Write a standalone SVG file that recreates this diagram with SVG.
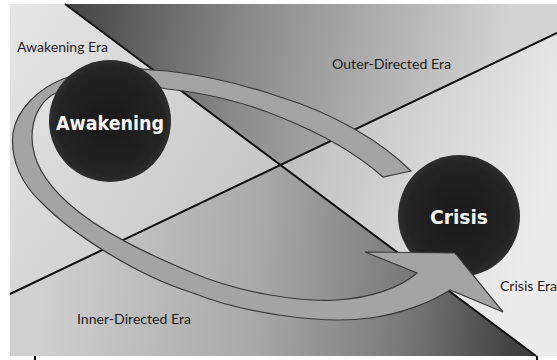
<svg xmlns="http://www.w3.org/2000/svg" width="557" height="360" viewBox="0 0 557 360">
<defs>
<linearGradient id="gTop" gradientUnits="userSpaceOnUse" x1="80" y1="0" x2="500" y2="70">
<stop offset="0" stop-color="#484848"/><stop offset="0.4" stop-color="#8a8a8a"/><stop offset="1" stop-color="#d2d2d2"/>
</linearGradient>
<linearGradient id="gLeft" gradientUnits="userSpaceOnUse" x1="10" y1="10" x2="280" y2="165">
<stop offset="0" stop-color="#e6e6e6"/><stop offset="1" stop-color="#c6c6c6"/>
</linearGradient>
<linearGradient id="gRight" gradientUnits="userSpaceOnUse" x1="290" y1="170" x2="530" y2="250">
<stop offset="0" stop-color="#c0c0c0"/><stop offset="1" stop-color="#ececec"/>
</linearGradient>
<linearGradient id="gBottom" gradientUnits="userSpaceOnUse" x1="40" y1="310" x2="520" y2="350">
<stop offset="0" stop-color="#d0d0d0"/><stop offset="0.45" stop-color="#a8a8a8"/><stop offset="0.75" stop-color="#7a7a7a"/><stop offset="1" stop-color="#3e3e3e"/>
</linearGradient>
<radialGradient id="gBall" cx="0.5" cy="0.5" r="0.5">
<stop offset="0" stop-color="#1a1a1a"/><stop offset="0.85" stop-color="#222"/><stop offset="1" stop-color="#2e2e2e"/>
</radialGradient>
<style>
.line{stroke:#111;stroke-width:2;fill:none}
.era{font-family:Lato,"Open Sans","DejaVu Sans",sans-serif;font-size:14px;fill:#1e1e1e}
.node-text{font-family:"DejaVu Sans",Verdana,sans-serif;font-weight:bold;font-size:19px;fill:#f4f4f4}
.ball{fill:url(#gBall)}
.band{fill:#a4a4a4;stroke:#3a3a3a;stroke-width:1.2;stroke-linejoin:miter}
</style>
</defs>
<rect x="0" y="0" width="557" height="360" fill="#fff"/>
<!-- background wedges -->
<polygon points="65,4 557,4 557,33 280.4,165" fill="url(#gTop)"/>
<polygon points="10,4 65,4 280.4,165 10,294" fill="url(#gLeft)"/>
<polygon points="557,33 280.4,165 536,356 557,356" fill="url(#gRight)"/>
<polygon points="10,294 280.4,165 536,356 10,356" fill="url(#gBottom)"/>
<line class="line" x1="65" y1="4" x2="536" y2="356"/>
<line class="line" x1="10" y1="294" x2="557" y2="33"/>
<rect x="34" y="356" width="2" height="4" fill="#000"/>
<rect x="536" y="356" width="2" height="4" fill="#000"/>
<g id="crisis">
<circle class="ball" cx="459" cy="216" r="61"/>
<text class="node-text" x="459" y="224" text-anchor="middle" textLength="58" lengthAdjust="spacingAndGlyphs">Crisis</text>
</g>
<g id="connectors">
<path class="band" d="M411,171 C380,140 330,112 280,97 C240,83 190,72 153,70 C120,66 90,68 63,79 C40,88 17,108 13,133 C10,160 22,185 42,203 C70,232 135,275 193,293 C240,312 320,325 370,318 C400,314 430,303 450,290 L503,312 L455,253 L365,252 L417,273 C400,288 370,298 337,300 C300,302 240,293 193,273 C150,255 100,232 68,203 C48,185 32,162 32,137 C32,118 40,103 52,95 C80,80 130,80 167,89 C200,92 245,102 280,117 C320,133 355,152 383,177 Z"/>
</g>
<g id="awakening">
<circle class="ball" cx="110" cy="121" r="61"/>
<text class="node-text" x="110" y="130" text-anchor="middle" textLength="108" lengthAdjust="spacingAndGlyphs">Awakening</text>
</g>
<g id="era-labels">
<text class="era" x="17" y="52" textLength="91" lengthAdjust="spacingAndGlyphs">Awakening Era</text>
<text class="era" x="332" y="69" textLength="119" lengthAdjust="spacingAndGlyphs">Outer-Directed Era</text>
<text class="era" x="77" y="324" textLength="114" lengthAdjust="spacingAndGlyphs">Inner-Directed Era</text>
<text class="era" x="500" y="291" textLength="57" lengthAdjust="spacingAndGlyphs">Crisis Era</text>
</g>
</svg>
